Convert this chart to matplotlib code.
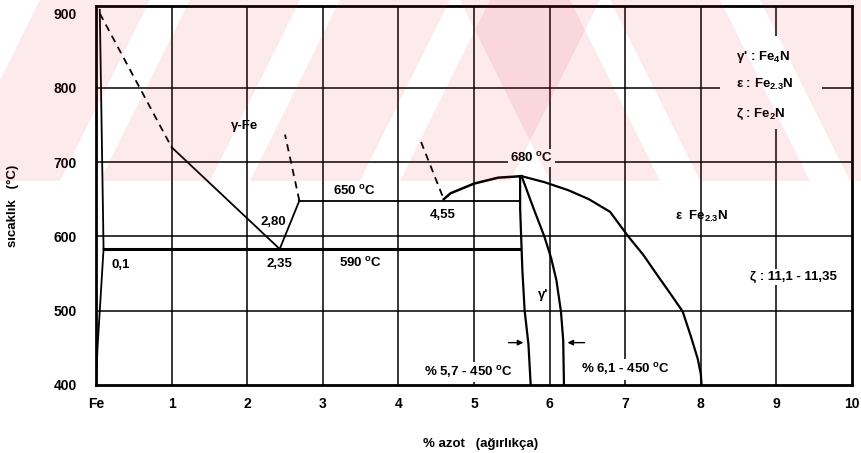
import matplotlib
matplotlib.use("Agg")
import matplotlib.pyplot as plt
from matplotlib.patches import Polygon, Rectangle

# --- Fe-N faz diyagramı verileri (ağırlıkça % azot, °C) ---
alpha_top_x = [0.05, 0.1]
alpha_top_y = [905, 583]
alpha_solvus_x = [0.1, 0.08, 0.05, 0.02, 0.0]
alpha_solvus_y = [583, 550, 500, 450, 400]

gamma_dash1_x = [0.05, 1.0]
gamma_dash1_y = [900, 720]
gamma_left_x = [1.0, 2.43]
gamma_left_y = [720, 583]
gamma_right_x = [2.43, 2.69]
gamma_right_y = [583, 648]
gamma_dash2_x = [2.69, 2.5]
gamma_dash2_y = [648, 737]

eutectoid_x = [0.1, 5.6]
eutectoid_y = [583, 583]
iso650_x = [2.69, 5.6]
iso650_y = [648, 648]

dash3_x = [4.3, 4.6]
dash3_y = [727, 650]
liquidus_x = [4.6, 4.69, 5.0, 5.32, 5.63]
liquidus_y = [650, 658, 671, 679, 681]

gp_left_x = [5.61, 5.61, 5.64, 5.67, 5.72, 5.75]
gp_left_y = [681, 638, 554, 500, 455, 400]
gp_right_x = [5.63, 5.79, 5.93, 6.02, 6.09, 6.15, 6.18, 6.19]
gp_right_y = [681, 637, 600, 571, 541, 499, 460, 400]

eps_x = [5.63, 5.93, 6.25, 6.52, 6.80, 7.04, 7.24, 7.41, 7.59, 7.76,
         7.87, 7.96, 8.0, 8.01]
eps_y = [681, 673, 662, 650, 633, 600, 575, 550, 524, 499,
         465, 435, 415, 400]

arrow_left = (5.42, 5.69, 457)
arrow_right = (6.5, 6.2, 457)

x_ticks = [0, 1, 2, 3, 4, 5, 6, 7, 8, 9, 10]
x_ticklabels = ["Fe", "1", "2", "3", "4", "5", "6", "7", "8", "9", "10"]
y_ticks = [400, 500, 600, 700, 800, 900]

deg = r"$^{\mathrm{o}}$C"
labels = [
    ("\u03b3-Fe", 1.97, 749, False),
    ("2,80", 2.34, 620, False),
    ("2,35", 2.43, 563, False),
    ("0,1", 0.33, 562, False),
    ("590 " + deg, 3.5, 564, False),
    ("650 " + deg, 3.42, 661, False),
    ("4,55", 4.58, 629, False),
    ("680 " + deg, 5.76, 705, True),
    ("\u03b3'", 5.92, 521, False),
    ("\u03b5  Fe$_{\\mathrm{2.3}}$N", 8.01, 627, False),
    ("\u03b6 : 11,1 - 11,35", 9.23, 545, True),
    ("% 5,7 - 450 " + deg, 4.92, 418, True),
    ("% 6,1 - 450 " + deg, 7.0, 421, True),
]
legend_lines = ["\u03b3' : Fe$_{\\mathrm{4}}$N",
                "\u03b5 : Fe$_{\\mathrm{2.3}}$N",
                "\u03b6 : Fe$_{\\mathrm{2}}$N"]
legend_y = [841, 804, 764]

plt.rcParams["font.family"] = ["Liberation Sans", "DejaVu Sans"]
plt.rcParams["font.weight"] = "bold"
plt.rcParams["axes.labelweight"] = "bold"
plt.rcParams["mathtext.fontset"] = "custom"
plt.rcParams["mathtext.rm"] = "Liberation Sans:bold"
plt.rcParams["mathtext.it"] = "Liberation Sans:bold"
plt.rcParams["mathtext.bf"] = "Liberation Sans:bold"

fig = plt.figure(figsize=(8.62, 4.53), dpi=100)
ax = fig.add_axes([96 / 862, 68 / 453, 756 / 862, 379 / 453])
ax.set_xlim(0, 10)
ax.set_ylim(400, 910)

for x in range(1, 10):
    ax.axvline(x, color="black", lw=1.1, zorder=1)
for y in [500, 600, 700, 800]:
    ax.axhline(y, color="black", lw=1.1, zorder=1)

lk = dict(color="black", lw=1.3, zorder=3)
ax.plot(alpha_top_x, alpha_top_y, **lk)
ax.plot(alpha_solvus_x, alpha_solvus_y, **lk)
ax.plot(gamma_left_x, gamma_left_y, **lk)
ax.plot(gamma_right_x, gamma_right_y, **lk)
ax.plot(eutectoid_x, eutectoid_y, color="black", lw=2.2, zorder=3)
ax.plot(iso650_x, iso650_y, **lk)
ax.plot(liquidus_x, liquidus_y, color="black", lw=1.8, zorder=3)
ax.plot(gp_left_x, gp_left_y, color="black", lw=1.6, zorder=3)
ax.plot(gp_right_x, gp_right_y, color="black", lw=1.6, zorder=3)
ax.plot(eps_x, eps_y, color="black", lw=1.6, zorder=3)

dk = dict(color="black", lw=1.3, ls=(0, (4, 3)), zorder=3)
ax.plot(gamma_dash1_x, gamma_dash1_y, **dk)
ax.plot(gamma_dash2_x, gamma_dash2_y, **dk)
ax.plot(dash3_x, dash3_y, **dk)

for x0, x1, y in [arrow_left, arrow_right]:
    ax.annotate("", xy=(x1, y), xytext=(x0, y),
                arrowprops=dict(arrowstyle="-|>", color="black", lw=1.0,
                                mutation_scale=8), zorder=4)

for txt, x, y, box in labels:
    kw = {}
    if box:
        kw["bbox"] = dict(facecolor="white", edgecolor="none", pad=1.5)
    ax.text(x, y, txt, ha="center", va="center", fontsize=9.5, zorder=5, **kw)

ax.add_patch(Rectangle((8.25, 745), 1.35, 125, facecolor="white",
                       edgecolor="none", zorder=2))
for txt, y in zip(legend_lines, legend_y):
    ax.text(8.47, y, txt, ha="left", va="center", fontsize=9.5, zorder=5)

ax.set_xticks(x_ticks)
ax.set_xticklabels(x_ticklabels)
ax.set_yticks(y_ticks)
ax.tick_params(length=0, labelsize=10)
ax.tick_params(axis="x", pad=9)
ax.tick_params(axis="y", pad=14)
for s in ax.spines.values():
    s.set_linewidth(2)

ax.set_xlabel("% azot   (a\u011f\u0131rl\u0131k\u00e7a)", fontsize=9.5)
ax.xaxis.set_label_coords(0.509, -0.14)
ax.set_ylabel("s\u0131cakl\u0131k   (\u00b0C)", fontsize=9.5)
ax.yaxis.set_label_coords(-0.102, 0.472)

# tarama filigranı (pembe çapraz şeritler)
W, H = 862, 453
band = Rectangle((0, 1 - 181 / H), 1, 181 / H, transform=fig.transFigure)
for x0 in range(-200, 1000, 150):
    if x0 < 430:
        pts = [(x0, 181), (x0 + 110, 181), (x0 + 200, 0), (x0 + 90, 0)]
    else:
        pts = [(x0, 181), (x0 + 110, 181), (x0 + 20, 0), (x0 - 90, 0)]
    poly = Polygon([(px / W, 1 - py / H) for px, py in pts], closed=True,
                   transform=fig.transFigure, facecolor="#e8193c",
                   edgecolor="none", alpha=0.09, zorder=10)
    poly.set_clip_path(band)
    fig.add_artist(poly)

plt.savefig("out.png", dpi=100)
